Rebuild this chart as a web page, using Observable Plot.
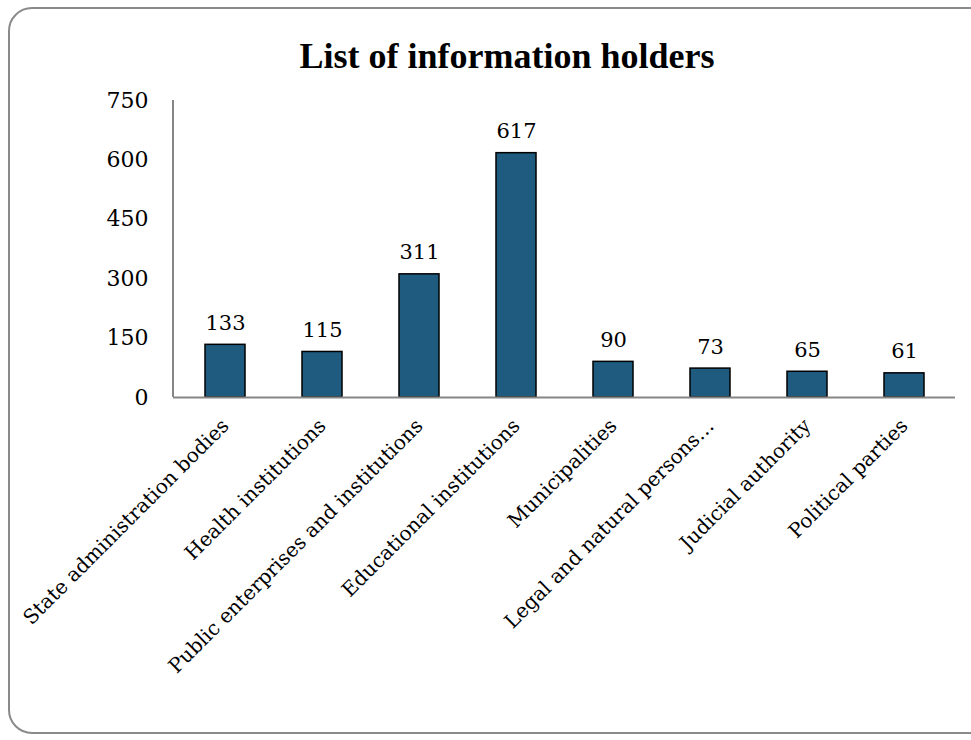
<!DOCTYPE html>
<html>
<head>
<meta charset="utf-8">
<script src="https://cdn.jsdelivr.net/npm/d3@7"></script>
<script src="https://cdn.jsdelivr.net/npm/@observablehq/plot@0.6"></script>
<style>
  html, body { margin: 0; padding: 0; background: #fff; overflow: hidden; }
  #wrap { position: relative; width: 971px; height: 740px; overflow: hidden; }
  #frame { position: absolute; left: 8px; top: 7px; width: 990px; height: 727px;
           border: 2px solid #8a8a8a; border-radius: 24px; box-sizing: border-box; }
  #title { position: absolute; left: 0; top: 35px; width: 1014px; text-align: center;
           font-family: "Liberation Serif", serif; font-weight: bold; font-size: 36px; color: #000; }
  #chart { position: absolute; left: 0; top: 0; }
</style>
</head>
<body>
<div id="wrap">
  <div id="frame"></div>
  <div id="title">List of information holders</div>
  <div id="chart"></div>
</div>
<script>
const categories = [
  "State administration bodies",
  "Health institutions",
  "Public enterprises and institutions",
  "Educational institutions",
  "Municipalities",
  "Legal and natural persons…",
  "Judicial authority",
  "Political parties"
];
const values = [133, 115, 311, 617, 90, 73, 65, 61];
const yTicks = [0, 150, 300, 450, 600, 750];

const data = categories.map((c, i) => ({name: c, value: values[i]}));

const yAxisLine = (index, scales, values, dims) => {
  const l = document.createElementNS("http://www.w3.org/2000/svg", "line");
  l.setAttribute("x1", dims.marginLeft);
  l.setAttribute("x2", dims.marginLeft);
  l.setAttribute("y1", dims.marginTop);
  l.setAttribute("y2", dims.height - dims.marginBottom);
  l.setAttribute("stroke", "#868686");
  l.setAttribute("stroke-width", 2);
  return l;
};

const plot = Plot.plot({
  width: 971,
  height: 740,
  marginTop: 100,
  marginBottom: 343,
  marginLeft: 173,
  marginRight: 16,
  style: {fontFamily: "'DejaVu Serif', serif", color: "#000", background: "transparent"},
  x: {domain: categories, paddingInner: 0.59, paddingOuter: 0.295, label: null, axis: null},
  y: {domain: [0, 750], label: null},
  marks: [
    Plot.barY(data, {x: "name", y: "value", fill: "#1f5b7e", stroke: "#000", strokeWidth: 1.5}),
    Plot.ruleY([0], {stroke: "#868686", strokeWidth: 2}),
    yAxisLine,
    Plot.text(data, {x: "name", y: "value", text: d => String(d.value), lineAnchor: "bottom", dy: -15, fontSize: 21, fill: "#000"}),
    Plot.axisY({ticks: yTicks, tickSize: 0, tickPadding: 25, fontSize: 22, label: null}),
    Plot.text(data, {x: "name", y: () => 0, text: "name", rotate: -45, textAnchor: "end", lineAnchor: "middle", dx: 0, dy: 25, fontSize: 20, fill: "#000"})
  ]
});
document.getElementById("chart").appendChild(plot);
</script>
</body>
</html>
